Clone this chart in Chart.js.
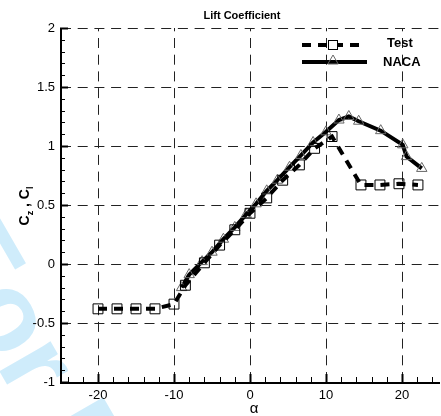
<!DOCTYPE html>
<html>
<head>
<meta charset="utf-8">
<script src="https://cdn.jsdelivr.net/npm/chart.js@4.4.0/dist/chart.umd.min.js"></script>
<style>
  html, body { margin: 0; padding: 0; background: #fff; overflow: hidden; }
  #wrap { width: 448px; height: 416px; }
</style>
</head>
<body>
<div id="wrap"><canvas id="liftChart" width="448" height="416"></canvas></div>
<script>
const FONT = '"Liberation Sans", Arial, Helvetica, sans-serif';

// Test (squares, dashed line)
const testAlpha = [-20, -17.5, -15, -12.5, -10, -8.5, -6, -4, -2, 0, 2.2, 4.3, 6.5, 8.5, 10.8, 14.6, 17.1, 19.6, 22.1];
const testCl = [-0.38, -0.38, -0.38, -0.38, -0.34, -0.18, 0.01, 0.16, 0.29, 0.43, 0.56, 0.71, 0.84, 0.98, 1.08, 0.67, 0.67, 0.68, 0.67];

// NACA (triangles, solid line)
const nacaAlpha = [-9, -8, -6.3, -5, -3.5, -2, -0.5, 0.8, 2.2, 3.6, 5.2, 6.7, 8.3, 10, 11.7, 13, 14.3, 17.2, 20.1, 20.6, 22.6];
const nacaCl = [-0.2, -0.09, 0.02, 0.1, 0.21, 0.31, 0.42, 0.51, 0.62, 0.71, 0.82, 0.92, 1.03, 1.12, 1.22, 1.25, 1.21, 1.13, 1.01, 0.91, 0.81];

const xTicks = [-20, -10, 0, 10, 20];
const yTicks = [-1, -0.5, 0, 0.5, 1, 1.5, 2];
const xMinorStep = 2;
const yMinorStep = 0.1;

const toPoints = (xs, ys) => xs.map((x, i) => ({ x: x, y: ys[i] }));

// grid, axes and inside ticks, plus texts the library can't do (subscripts, watermark)
const frame = {
  id: 'frame',
  beforeDraw(chart) {
    const ctx = chart.ctx;
    ctx.save();
    ctx.fillStyle = '#fff';
    ctx.fillRect(0, 0, chart.width, chart.height);
    // watermark
    ctx.translate(-73, 246);
    ctx.rotate(60 * Math.PI / 180);
    ctx.font = 'bold 112px ' + FONT;
    ctx.fillStyle = 'rgb(207,236,251)';
    ctx.fillText('For Peer Review', 0, 0);
    ctx.restore();
  },
  beforeDatasetsDraw(chart) {
    const ctx = chart.ctx;
    const a = chart.chartArea;
    const xs = chart.scales.x, ys = chart.scales.y;
    ctx.save();
    ctx.strokeStyle = '#222';
    ctx.lineWidth = 1;
    ctx.setLineDash([10, 6.7]);
    yTicks.forEach(v => {
      if (v === -1) return;
      const y = Math.round(ys.getPixelForValue(v)) + 0.5;
      ctx.beginPath(); ctx.moveTo(a.left + 1, y); ctx.lineTo(a.right, y); ctx.stroke();
    });
    xTicks.forEach(v => {
      const x = Math.round(xs.getPixelForValue(v)) + 0.5;
      ctx.beginPath(); ctx.moveTo(x, a.bottom); ctx.lineTo(x, a.top); ctx.stroke();
    });
    ctx.setLineDash([]);
    ctx.strokeStyle = '#000';
    // minor + major ticks, pointing inside
    for (let v = -1; v <= 2.0001; v += yMinorStep) {
      const major = Math.abs(v * 2 - Math.round(v * 2)) < 1e-6;
      const y = Math.round(ys.getPixelForValue(v)) + 0.5;
      ctx.lineWidth = major ? 2 : 1;
      ctx.beginPath(); ctx.moveTo(a.left, y); ctx.lineTo(a.left + (major ? 8 : 5), y); ctx.stroke();
    }
    for (let v = -24; v <= 24; v += xMinorStep) {
      const major = v % 10 === 0;
      const x = Math.round(xs.getPixelForValue(v)) + 0.5;
      ctx.lineWidth = major ? 2 : 1;
      ctx.beginPath(); ctx.moveTo(x, a.bottom); ctx.lineTo(x, a.bottom - (major ? 8 : 5)); ctx.stroke();
    }
    // axis lines
    ctx.lineWidth = 2;
    ctx.beginPath();
    ctx.moveTo(a.left + 1, a.top);
    ctx.lineTo(a.left + 1, a.bottom + 1);
    ctx.lineTo(a.right, a.bottom + 1);
    ctx.stroke();
    ctx.restore();
  },
  afterDraw(chart) {
    const ctx = chart.ctx;
    ctx.save();
    ctx.fillStyle = '#000';
    ctx.textBaseline = 'alphabetic';

    // title
    ctx.font = 'bold 11px ' + FONT;
    ctx.textAlign = 'center';
    ctx.fillText('Lift Coefficient', 242, 19);

    // x title
    ctx.font = '15px ' + FONT;
    ctx.fillText('\u03b1', 254, 413);

    // y title: C_z , C_l
    const big = 'bold 14px ' + FONT, small = 'bold 9px ' + FONT;
    const parts = [['C', big, 0], ['z', small, 4], [' , ', big, 0], ['C', big, 0], ['l', small, 4]];
    let total = 0;
    parts.forEach(p => { ctx.font = p[1]; total += ctx.measureText(p[0]).width; });
    ctx.save();
    ctx.translate(29, 206 + total / 2);
    ctx.rotate(-Math.PI / 2);
    ctx.textAlign = 'left';
    let px = 0;
    parts.forEach(p => { ctx.font = p[1]; ctx.fillText(p[0], px, p[2]); px += ctx.measureText(p[0]).width; });
    ctx.restore();

    // legend
    ctx.strokeStyle = '#000';
    ctx.lineWidth = 4;
    ctx.setLineDash([9, 7]);
    ctx.beginPath(); ctx.moveTo(302, 45); ctx.lineTo(366, 45); ctx.stroke();
    ctx.setLineDash([]);
    ctx.beginPath(); ctx.moveTo(302, 62); ctx.lineTo(367, 62); ctx.stroke();
    ctx.lineWidth = 1;
    ctx.fillStyle = '#fff';
    ctx.fillRect(328, 40, 10, 10);
    ctx.strokeRect(328.5, 40.5, 9, 9);
    ctx.strokeStyle = '#666';
    ctx.beginPath();
    ctx.moveTo(333, 55); ctx.lineTo(338.2, 64); ctx.lineTo(327.8, 64); ctx.closePath();
    ctx.stroke();
    ctx.fillStyle = '#000';
    ctx.font = 'bold 13px ' + FONT;
    ctx.textAlign = 'left';
    ctx.fillText('Test', 387, 47);
    ctx.fillText('NACA', 383, 66);
    ctx.restore();
  }
};

new Chart(document.getElementById('liftChart'), {
  type: 'line',
  data: {
    datasets: [
      {
        label: 'Test',
        data: toPoints(testAlpha, testCl),
        borderColor: '#000',
        borderWidth: 4,
        borderDash: [9, 7],
        pointStyle: 'rect',
        pointRadius: 7,
        pointBorderWidth: 1,
        pointBorderColor: '#000',
        pointBackgroundColor: 'rgba(0,0,0,0)',
        tension: 0
      },
      {
        label: 'NACA',
        data: toPoints(nacaAlpha, nacaCl),
        borderColor: '#000',
        borderWidth: 4,
        pointStyle: 'triangle',
        pointRadius: 6,
        pointBorderWidth: 1,
        pointBorderColor: '#666',
        pointBackgroundColor: 'rgba(0,0,0,0)',
        tension: 0
      }
    ]
  },
  options: {
    responsive: false,
    animation: false,
    devicePixelRatio: 1,
    layout: { padding: { top: 28, left: 0, right: 0, bottom: 0 } },
    plugins: { legend: { display: false }, tooltip: { enabled: false }, title: { display: false } },
    scales: {
      x: {
        type: 'linear',
        min: -25, max: 25,
        grid: { display: false, drawTicks: false },
        border: { display: false },
        afterBuildTicks: s => { s.ticks = xTicks.map(v => ({ value: v })); },
        afterFit: s => { s.height = 34; },
        ticks: { color: '#000', font: { family: FONT, size: 13 }, padding: 6, maxRotation: 0, callback: v => String(v) }
      },
      y: {
        type: 'linear',
        min: -1, max: 2,
        grid: { display: false, drawTicks: false },
        border: { display: false },
        afterBuildTicks: s => { s.ticks = yTicks.map(v => ({ value: v })); },
        afterFit: s => { s.width = 60; },
        ticks: { color: '#000', font: { family: FONT, size: 13 }, padding: 5, callback: v => String(v) }
      }
    }
  },
  plugins: [frame]
});
</script>
</body>
</html>
